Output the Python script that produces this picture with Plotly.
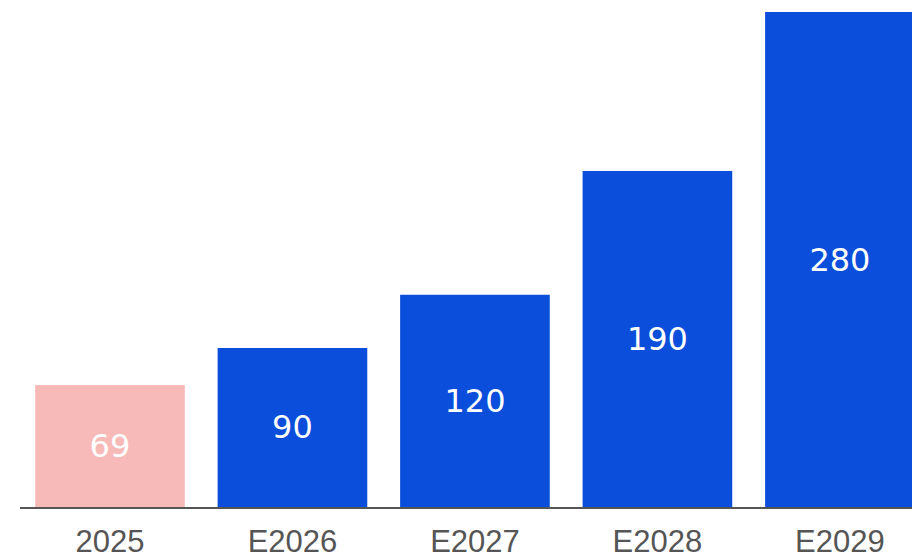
import plotly.graph_objects as go

categories = ["2025", "E2026", "E2027", "E2028", "E2029"]
values = [69, 90, 120, 190, 280]
colors = ["#F8B9B9", "#0A4EDB", "#0A4EDB", "#0A4EDB", "#0A4EDB"]

fig = go.Figure(go.Bar(
    x=list(range(len(categories))),
    y=values,
    text=[str(v) for v in values],
    textposition="inside",
    insidetextanchor="middle",
    textfont=dict(color="white", size=32, family="DejaVu Sans"),
    marker=dict(color=colors, line=dict(width=0)),
    width=0.82,
    hoverinfo="skip",
))

fig.update_layout(
    width=912, height=559,
    margin=dict(l=20, r=0, t=0, b=52, autoexpand=False),
    plot_bgcolor="white", paper_bgcolor="white",
    showlegend=False,
    xaxis=dict(
        tickmode="array",
        tickvals=list(range(len(categories))),
        ticktext=categories,
        range=[-0.493, 4.395],
        automargin=False,
        showgrid=False, zeroline=False,
        showline=True, linecolor="#555555", linewidth=2,
        ticks="outside", ticklen=6, tickcolor="rgba(0,0,0,0)",
        tickfont=dict(size=31, color="#555555", family="Liberation Sans"),
    ),
    yaxis=dict(
        range=[0, 286.8],
        visible=False,
        automargin=False,
        showgrid=False, zeroline=False,
    ),
)

fig.write_html(
    "out.html",
    config={"displayModeBar": False, "staticPlot": True},
    post_script="document.body.style.margin='0';document.body.style.overflow='hidden';",
)
